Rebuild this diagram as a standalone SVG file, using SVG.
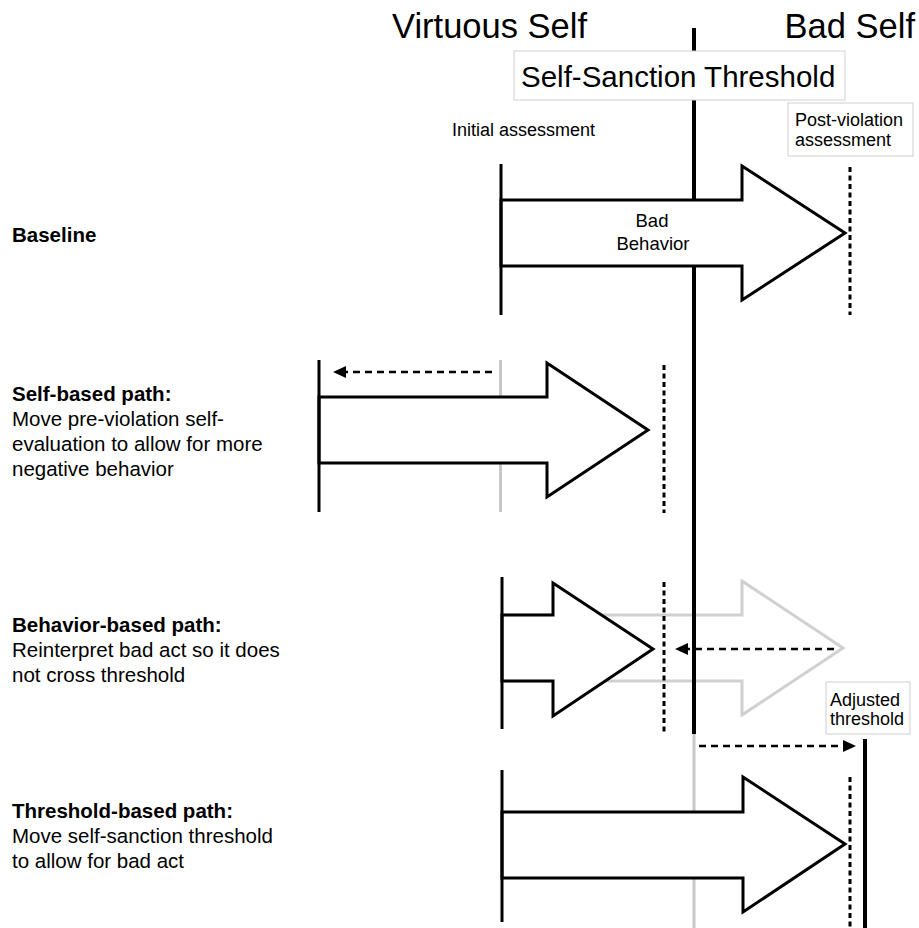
<svg xmlns="http://www.w3.org/2000/svg" width="919" height="928" viewBox="0 0 919 928">
  <style>
    text { font-family: "Liberation Sans", Arial, Helvetica, sans-serif; fill: #000; }
    .big { font-size: 34.5px; }
    .thr { font-size: 29.5px; }
    .small { font-size: 18px; }
    .side { font-size: 20.5px; }
    .b { font-weight: bold; }
    .arrow { fill: #fff; stroke: #000; stroke-width: 3; stroke-linejoin: miter; }
    .ghost { fill: #fff; stroke: #d0d0d0; stroke-width: 3; }
    .solid { stroke: #000; stroke-width: 3; fill: none; }
    .grey { stroke: #c8c8c8; stroke-width: 3; fill: none; }
    .dotted { stroke: #000; stroke-width: 3; stroke-dasharray: 5 3.5; fill: none; }
    .dashed { stroke: #000; stroke-width: 2.5; stroke-dasharray: 7 5; fill: none; }
    .box { fill: #fff; stroke: #d0d0d0; stroke-width: 1; }
  </style>
  <defs>
    <marker id="head" markerUnits="userSpaceOnUse" markerWidth="14" markerHeight="12" refX="2" refY="6" orient="auto">
      <path d="M0,0 L13,6 L0,12 Z" fill="#000"/>
    </marker>
  </defs>
  <rect width="919" height="928" fill="#fff"/>

  <!-- grey original arrow in behavior row (behind threshold) -->
  <g id="ghost-arrow">
    <path class="ghost" d="M502,615 L742,615 L742,581 L843,648 L742,715 L742,681 L502,681 Z"/>
  </g>

  <!-- self-sanction threshold line -->
  <g id="threshold-line">
    <line x1="694" y1="28" x2="694" y2="734" stroke="#000" stroke-width="4"/>
    <line x1="694" y1="734" x2="694" y2="928" stroke="#c8c8c8" stroke-width="3"/>
  </g>

  <g id="top-labels">
    <text class="big" x="392" y="38">Virtuous Self</text>
    <text class="big" x="915" y="38" text-anchor="end">Bad Self</text>
  </g>

  <g id="threshold-label">
    <rect class="box" x="514" y="51" width="331" height="49"/>
    <text class="thr" x="521" y="87">Self-Sanction Threshold</text>
  </g>

  <g id="initial-assessment">
    <text class="small" x="452" y="136">Initial assessment</text>
  </g>

  <g id="post-violation">
    <rect class="box" x="788" y="103" width="125" height="53"/>
    <text class="small" x="795" y="126">Post-violation</text>
    <text class="small" x="795" y="146">assessment</text>
  </g>

  <!-- Baseline row -->
  <g id="baseline">
    <text class="side b" x="12" y="242">Baseline</text>
    <path class="arrow" d="M501,200 L742,200 L742,166 L845,233 L742,300 L742,266 L501,266 Z"/>
    <line class="solid" x1="501" y1="164" x2="501" y2="315"/>
    <line class="dotted" x1="850" y1="167" x2="850" y2="315"/>
    <text class="small" x="652" y="227" text-anchor="middle" style="font-size:18.5px">Bad</text>
    <text class="small" x="653" y="250" text-anchor="middle" style="font-size:18.5px">Behavior</text>
  </g>

  <!-- Self-based row -->
  <g id="self-based">
    <text class="side b" x="12" y="401">Self-based path:</text>
    <text class="side" x="12" y="426">Move pre-violation self-</text>
    <text class="side" x="12" y="451">evaluation to allow for more</text>
    <text class="side" x="12" y="476">negative behavior</text>
    <line class="grey" x1="500.5" y1="360" x2="500.5" y2="512" stroke-width="2.5"/>
    <path class="arrow" d="M319,397 L547,397 L547,363 L648,430 L547,497 L547,463 L319,463 Z"/>
    <line class="solid" x1="319" y1="360" x2="319" y2="512"/>
    <line class="dotted" x1="664" y1="365" x2="664" y2="513"/>
  </g>

  <!-- Behavior-based row -->
  <g id="behavior-based">
    <text class="side b" x="12" y="632">Behavior-based path:</text>
    <text class="side" x="12" y="657">Reinterpret bad act so it does</text>
    <text class="side" x="12" y="682">not cross threshold</text>
    <path class="arrow" d="M502,615 L553,615 L553,583 L653,649 L553,716 L553,681 L502,681 Z"/>
    <line class="solid" x1="502" y1="577" x2="502" y2="729"/>
    <line class="dotted" x1="664" y1="582" x2="664" y2="733"/>
  </g>

  <g id="adjusted-threshold">
    <rect class="box" x="826" y="682" width="84" height="52"/>
    <text class="small" x="830" y="706">Adjusted</text>
    <text class="small" x="830" y="725">threshold</text>
    <line x1="865" y1="739" x2="865" y2="928" stroke="#000" stroke-width="4"/>
  </g>

  <!-- Threshold-based row -->
  <g id="threshold-based">
    <text class="side b" x="12" y="818">Threshold-based path:</text>
    <text class="side" x="12" y="843">Move self-sanction threshold</text>
    <text class="side" x="12" y="868">to allow for bad act</text>
    <path class="arrow" d="M502,812 L743,812 L743,777 L845,844 L743,912 L743,878 L502,878 Z"/>
    <line class="solid" x1="502" y1="770" x2="502" y2="922"/>
    <line class="dotted" x1="850" y1="777" x2="850" y2="928"/>
  </g>

  <!-- connectors -->
  <g id="connectors">
    <line class="dashed" x1="492" y1="372" x2="344" y2="372" marker-end="url(#head)"/>
    <line class="dashed" x1="834" y1="649" x2="686" y2="649" marker-end="url(#head)"/>
    <line class="dashed" x1="699" y1="746" x2="845" y2="746" marker-end="url(#head)"/>
  </g>
</svg>
